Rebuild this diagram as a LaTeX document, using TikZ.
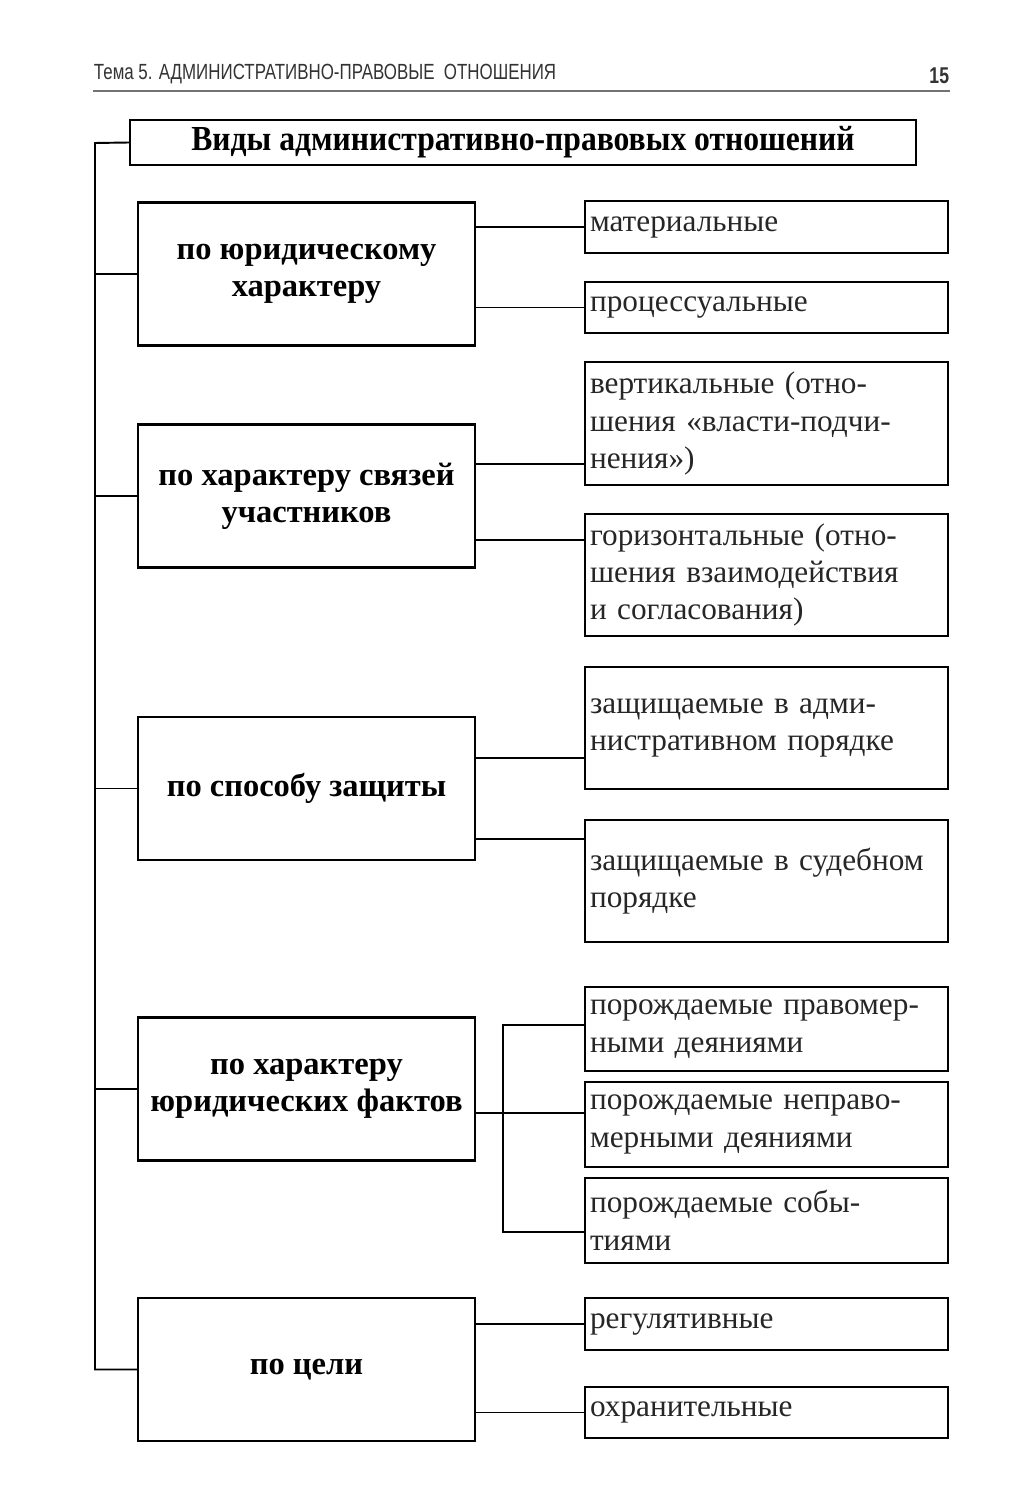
\documentclass[tikz,border=0pt]{standalone}
\usepackage{fontspec}
\setmainfont{Liberation Serif}
\newfontfamily\headfont[FakeStretch=0.77]{Liberation Sans}
\newfontfamily\titlefont[FakeStretch=0.9]{Liberation Serif}
\usetikzlibrary{positioning}

\begin{document}
\begin{tikzpicture}[x=0.02cm, y=-0.02cm, line width=1.1pt,
    titlebox/.style={draw, line width=1.4pt, minimum width=15.72cm, minimum height=0.9cm, inner sep=0pt,
      font=\titlefont\fontsize{20}{22}\selectfont\bfseries},
    groupbox/.style={draw, line width=1.4pt, minimum width=6.74cm, minimum height=2.86cm, align=center,
      font=\fontsize{18.5}{21}\selectfont\bfseries},
    kindbox/.style={draw, line width=1.4pt, text width=7.06cm, inner xsep=0.1cm, inner ysep=0pt, align=left,
      font=\fontsize{17.8}{21.3}\selectfont, text=black!85}
  ]
    \useasboundingbox (0,0) rectangle (1025,1500);

    % page head
    \node[anchor=west, inner sep=0pt, font=\headfont\fontsize{12.5}{14}\selectfont, text=black!80] (theme) at (93,74)
      {Тема 5. АДМИНИСТРАТИВНО-ПРАВОВЫЕ\ \ ОТНОШЕНИЯ};
    \node[anchor=east, inner sep=0pt, font=\headfont\fontsize{13}{14}\selectfont\bfseries, text=black!80] (page) at (950,76) {15};
    \draw[black!55, line width=1.5pt] (93,91) -- (950,91);

    \node[titlebox] (title) at (523,142.5) {Виды административно-правовых отношений};

    % groups
    \node[groupbox] (jur) at (306.5,274) {по юридическому\\характеру};
    \node[groupbox] (links) at (306.5,496) {по характеру связей\\участников};
    \node[groupbox] (defense) at (306.5,788.5) {по способу защиты};
    \node[groupbox] (facts) at (306.5,1089) {по характеру\\юридических фактов};
    \node[groupbox] (goal) at (306.5,1369.5) {по цели};

    % kinds
    \node[kindbox, minimum height=1.04cm] (mat) at (766.5,227) {материальные};
    \node[kindbox, minimum height=1.02cm] (proc) at (766.5,307.5) {процессуальные};
    \node[kindbox, minimum height=2.46cm] (vert) at (766.5,423.5) {вертикальные~(отно\mbox{-}\\шения~«власти-подчи\mbox{-}\\нения»)};
    \node[kindbox, minimum height=2.44cm] (horiz) at (766.5,575) {горизонтальные~(отно\mbox{-}\\шения~взаимодействия\\и~согласования)};
    \node[kindbox, minimum height=2.44cm] (adm) at (766.5,728) {защищаемые~в~адми\mbox{-}\\нистративном~порядке};
    \node[kindbox, minimum height=2.44cm] (court) at (766.5,881) {защищаемые~в~судебном\\порядке};
    \node[kindbox, minimum height=1.68cm] (lawful) at (766.5,1029) {порождаемые~правомер\mbox{-}\\ными~деяниями};
    \node[kindbox, minimum height=1.7cm] (unlawful) at (766.5,1124.5) {порождаемые~неправо\mbox{-}\\мерными~деяниями};
    \node[kindbox, minimum height=1.7cm] (event) at (766.5,1220.5) {порождаемые~собы\mbox{-}\\тиями};
    \node[kindbox, minimum height=1.04cm] (reg) at (766.5,1324) {регулятивные};
    \node[kindbox, minimum height=1.02cm] (prot) at (766.5,1412.5) {охранительные};

    % spine
    \coordinate (spine) at (95,143);
    \draw (title.west) -- (spine) |- (goal.west);
    \foreach \g in {jur, links, defense, facts}
      \draw (spine |- \g.west) -- (\g.west);

    % group to kinds
    \draw (jur.east |- mat.west) -- (mat.west);
    \draw (jur.east |- proc.west) -- (proc.west);
    \foreach \g/\k/\y in {links/vert/464, links/horiz/540, defense/adm/758, defense/court/839}
      \draw (\g.east |- 0,\y) -- (\k.west |- 0,\y);
    \draw (goal.east |- reg.west) -- (reg.west);
    \draw (goal.east |- prot.west) -- (prot.west);

    % facts fork
    \coordinate (fork) at (503,1113);
    \draw (facts.east |- fork) -- (unlawful.west |- fork);
    \draw (lawful.west |- 0,1025) -| (fork |- 0,1232) -- (event.west |- 0,1232);
  \end{tikzpicture}
\end{document}
